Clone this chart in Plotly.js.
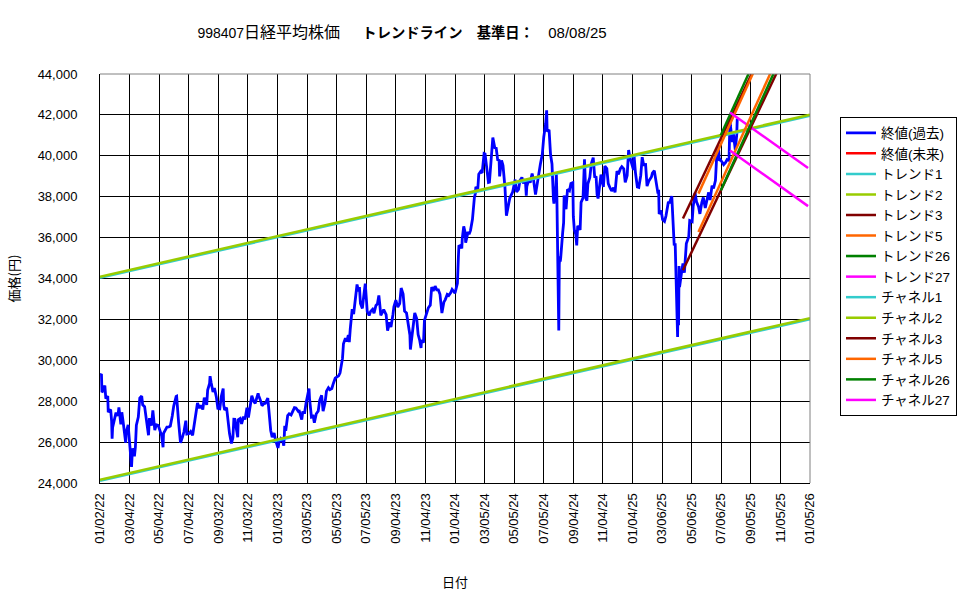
<!DOCTYPE html>
<html><head><meta charset="utf-8">
<script src="https://cdn.plot.ly/plotly-3.0.1.min.js"></script>
<style>body{margin:0;background:#fff}#chart{width:975px;height:599px}</style>
</head><body><div id="chart"></div>
<script>
// ---- data ----
const closeDates = [
'2022-01-04','2022-01-05','2022-01-06','2022-01-07','2022-01-12','2022-01-14','2022-01-18','2022-01-19','2022-01-21','2022-01-24','2022-01-26','2022-01-27','2022-01-28',
'2022-02-01','2022-02-04','2022-02-08','2022-02-10','2022-02-14','2022-02-16','2022-02-18','2022-02-22','2022-02-24','2022-02-25',
'2022-03-01','2022-03-04','2022-03-08','2022-03-10','2022-03-14','2022-03-16','2022-03-18','2022-03-22','2022-03-25','2022-03-29','2022-03-31',
'2022-04-04','2022-04-08','2022-04-12','2022-04-14','2022-04-18','2022-04-21','2022-04-25','2022-04-28',
'2022-05-02','2022-05-09','2022-05-12','2022-05-13','2022-05-17','2022-05-20','2022-05-24','2022-05-27','2022-05-31',
'2022-06-03','2022-06-08','2022-06-09','2022-06-13','2022-06-17','2022-06-21','2022-06-24','2022-06-28','2022-06-30',
'2022-07-05','2022-07-08','2022-07-12','2022-07-15','2022-07-20','2022-07-22','2022-07-26','2022-07-29',
'2022-08-02','2022-08-05','2022-08-10','2022-08-12','2022-08-16','2022-08-17','2022-08-19','2022-08-23','2022-08-26','2022-08-30',
'2022-09-02','2022-09-06','2022-09-09','2022-09-13','2022-09-14','2022-09-16','2022-09-20','2022-09-22','2022-09-26','2022-09-28','2022-09-30',
'2022-10-03','2022-10-05','2022-10-07','2022-10-11','2022-10-13','2022-10-14','2022-10-18','2022-10-21','2022-10-25','2022-10-28',
'2022-11-01','2022-11-04','2022-11-08','2022-11-11','2022-11-15','2022-11-18','2022-11-24','2022-11-25','2022-11-30',
'2022-12-02','2022-12-06','2022-12-09','2022-12-14','2022-12-16','2022-12-20','2022-12-23','2022-12-27','2022-12-30',
'2023-01-04','2023-01-06','2023-01-10','2023-01-13','2023-01-16','2023-01-18','2023-01-20','2023-01-24','2023-01-27','2023-01-31',
'2023-02-03','2023-02-07','2023-02-10','2023-02-15','2023-02-17','2023-02-22','2023-02-24','2023-02-28',
'2023-03-03','2023-03-06','2023-03-09','2023-03-10','2023-03-14','2023-03-15','2023-03-17','2023-03-20','2023-03-24','2023-03-28','2023-03-31',
'2023-04-04','2023-04-07','2023-04-11','2023-04-14','2023-04-18','2023-04-21','2023-04-25','2023-04-28',
'2023-05-02','2023-05-09','2023-05-12','2023-05-17','2023-05-19','2023-05-23','2023-05-26','2023-05-29','2023-05-31',
'2023-06-02','2023-06-06','2023-06-09','2023-06-13','2023-06-16','2023-06-19','2023-06-21','2023-06-23','2023-06-27','2023-06-30',
'2023-07-03','2023-07-07','2023-07-11','2023-07-14','2023-07-18','2023-07-21','2023-07-25','2023-07-28','2023-07-31',
'2023-08-02','2023-08-04','2023-08-08','2023-08-10','2023-08-15','2023-08-18','2023-08-22','2023-08-25','2023-08-29','2023-08-31',
'2023-09-04','2023-09-08','2023-09-12','2023-09-15','2023-09-19','2023-09-22','2023-09-26','2023-09-29',
'2023-10-03','2023-10-04','2023-10-06','2023-10-11','2023-10-13','2023-10-17','2023-10-20','2023-10-23','2023-10-26','2023-10-27','2023-10-31',
'2023-11-02','2023-11-07','2023-11-10','2023-11-14','2023-11-17','2023-11-20','2023-11-24','2023-11-28','2023-11-30',
'2023-12-04','2023-12-06','2023-12-08','2023-12-12','2023-12-15','2023-12-19','2023-12-22','2023-12-26','2023-12-29',
'2024-01-04','2024-01-05','2024-01-09','2024-01-11','2024-01-12','2024-01-16','2024-01-18','2024-01-19','2024-01-22','2024-01-25','2024-01-26','2024-01-31',
'2024-02-02','2024-02-05','2024-02-08','2024-02-09','2024-02-13','2024-02-15','2024-02-16','2024-02-20','2024-02-22','2024-02-26','2024-02-29',
'2024-03-04','2024-03-06','2024-03-08','2024-03-11','2024-03-13','2024-03-15','2024-03-19','2024-03-22','2024-03-26','2024-03-29',
'2024-04-01','2024-04-04','2024-04-05','2024-04-09','2024-04-12','2024-04-16','2024-04-19','2024-04-23','2024-04-26',
'2024-05-02','2024-05-07','2024-05-10','2024-05-14','2024-05-17','2024-05-21','2024-05-24','2024-05-28','2024-05-30','2024-05-31',
'2024-06-04','2024-06-07','2024-06-11','2024-06-14','2024-06-18','2024-06-21','2024-06-25','2024-06-28',
'2024-07-02','2024-07-05','2024-07-09','2024-07-11','2024-07-12','2024-07-16','2024-07-19','2024-07-22','2024-07-25','2024-07-26','2024-07-30','2024-07-31',
'2024-08-01','2024-08-02','2024-08-05','2024-08-06','2024-08-07','2024-08-08','2024-08-09','2024-08-13','2024-08-15','2024-08-16','2024-08-20','2024-08-23','2024-08-27','2024-08-30',
'2024-09-03','2024-09-04','2024-09-06','2024-09-09','2024-09-11','2024-09-13','2024-09-18','2024-09-20','2024-09-24','2024-09-27','2024-09-30',
'2024-10-02','2024-10-04','2024-10-08','2024-10-11','2024-10-15','2024-10-18','2024-10-21','2024-10-23','2024-10-25','2024-10-28','2024-10-31',
'2024-11-05','2024-11-07','2024-11-08','2024-11-12','2024-11-15','2024-11-19','2024-11-22','2024-11-26','2024-11-29',
'2024-12-03','2024-12-06','2024-12-10','2024-12-13','2024-12-17','2024-12-20','2024-12-24','2024-12-27','2024-12-30',
'2025-01-06','2025-01-07','2025-01-10','2025-01-14','2025-01-17','2025-01-21','2025-01-24','2025-01-27','2025-01-31',
'2025-02-03','2025-02-07','2025-02-12','2025-02-14','2025-02-18','2025-02-21','2025-02-25','2025-02-27','2025-02-28',
'2025-03-04','2025-03-07','2025-03-11','2025-03-14','2025-03-19','2025-03-21','2025-03-26','2025-03-28','2025-03-31',
'2025-04-02','2025-04-04','2025-04-07','2025-04-08','2025-04-09','2025-04-10','2025-04-11','2025-04-15','2025-04-18','2025-04-21','2025-04-25','2025-04-30',
'2025-05-02','2025-05-07','2025-05-09','2025-05-13','2025-05-16','2025-05-20','2025-05-23','2025-05-27','2025-05-30',
'2025-06-03','2025-06-06','2025-06-10','2025-06-13','2025-06-17','2025-06-20','2025-06-24','2025-06-27','2025-06-30',
'2025-07-02','2025-07-04','2025-07-08','2025-07-11','2025-07-15','2025-07-18','2025-07-22','2025-07-23','2025-07-24','2025-07-25','2025-07-29','2025-07-31',
'2025-08-01','2025-08-04','2025-08-06','2025-08-07','2025-08-08'];
const closeValues = [
29301,29332,28487,28478,28765,28124,28257,27467,27522,27588,27011,26170,26717,
27078,27439,27284,27696,26865,27460,27122,26449,25970,26476,
26844,25985,24790,25690,25307,25762,26827,27224,28149,28252,27821,
27736,26985,26335,27172,26800,27553,26590,26847,
26818,26319,25748,26428,26659,26739,26748,26781,27279,
27761,28234,28246,26987,25963,26246,26491,27049,26393,
26423,26517,26336,26788,27680,27915,27655,27801,
27594,28175,27819,28547,28869,29222,28930,28452,28641,28195,
27650,27626,28214,28614,27818,27567,27688,27153,26431,26173,25937,
26215,27120,27116,26401,26237,27090,27156,26890,27250,27105,
27678,27199,27872,28263,27990,27899,28383,28283,27968,
27777,27885,27901,28156,27527,26568,26235,26447,26094,
25716,25973,26175,26119,25822,26791,26553,27299,27382,27327,
27509,27685,27670,27501,27513,27104,27453,27445,
27927,28237,28623,28143,27222,27229,27333,26945,27385,27518,28041,
28287,27518,27923,28493,28658,28564,28620,28856,
29123,29242,29388,30093,30808,31086,30916,31233,30888,
31524,32506,32265,33018,33706,33370,33575,32781,32538,33189,
33753,32388,32190,32391,32493,32304,32682,32759,33172,
32707,32192,32377,32473,32238,31450,31856,31624,32226,32619,
32939,32606,32776,33533,33242,32402,32315,31857,
31237,30526,30994,31936,32315,32040,31259,30999,30601,30991,30858,
31950,32271,32568,32695,33585,33388,33625,33408,33486,
33231,32775,32307,32843,32970,33219,33169,33305,33464,
33288,33377,33763,35049,35577,35619,35466,35963,36546,36236,35751,36286,
36158,36354,36863,36897,37963,38157,38487,38363,39098,39233,39166,
40109,40090,39688,38820,38695,38707,40003,40888,40398,40369,
39803,39773,38992,39773,39523,38471,37068,37552,37934,
38236,38835,38229,38356,38787,38946,38646,38855,38054,38487,
38837,38683,39134,38815,38102,38596,39173,39583,
40074,40912,41580,42224,41190,41275,40063,39599,37869,37667,38525,39101,
38126,35909,31458,34675,35089,34831,35025,36232,36726,38062,37388,38364,38288,38647,
38686,37047,36391,36159,35619,36581,36380,37723,37940,39829,37919,
37808,38635,38937,39605,39910,38981,38954,38104,37913,38605,39081,
38474,39381,39500,39376,38642,38414,38283,38442,38208,
39248,39091,39367,39470,39364,38702,39036,40281,39894,
39307,40083,39190,38474,38451,39027,39931,39566,39572,
38520,38787,38963,39149,39270,38776,38237,38256,37155,
37331,36887,36793,37053,37751,37677,38027,37120,35617,
35725,33780,31136,33013,31714,34609,33586,34267,34730,34280,35705,36045,
36831,36780,37503,38183,37753,37529,37160,37724,37965,
37446,37742,38211,37834,38536,38403,38790,40150,40487,
39762,39811,39688,39570,39678,39819,39774,41171,41826,41456,40674,41069,
40800,40290,40794,41059,41820];

const futureDates = [];
const futureValues = [];

const trend1Dates = ['2022-01-02','2026-01-05'];  const trend1Values = [34040, 41960];
const trend2Dates = ['2022-01-02','2026-01-05'];  const trend2Values = [34090, 42010];
const trend3Dates = ['2025-04-18','2025-10-31'];  const trend3Values = [36930, 46720];
const trend5Dates = ['2025-05-20','2025-10-31'];  const trend5Values = [38150, 46730];
const trend26Dates = ['2025-07-05','2025-10-31']; const trend26Values = [41000, 47200];
const trend27Dates = ['2025-07-24','2026-01-01']; const trend27Values = [42120, 39400];
const chan1Dates = ['2022-01-02','2026-01-05'];   const chan1Values = [24110, 32010];
const chan2Dates = ['2022-01-02','2026-01-05'];   const chan2Values = [24160, 32060];
const chan3Dates = ['2025-04-18','2025-10-31'];   const chan3Values = [34400, 44190];
const chan5Dates = ['2025-05-20','2025-10-31'];   const chan5Values = [36270, 44850];
const chan26Dates = ['2025-07-05','2025-10-31'];  const chan26Values = [38300, 44500];
const chan27Dates = ['2025-07-24','2026-01-01'];  const chan27Values = [40260, 37540];

const tickDates = ['2022-01-02','2022-03-04','2022-05-04','2022-07-04','2022-09-03','2022-11-03',
 '2023-01-03','2023-03-05','2023-05-05','2023-07-05','2023-09-04','2023-11-04',
 '2024-01-04','2024-03-05','2024-05-05','2024-07-05','2024-09-04','2024-11-04',
 '2025-01-04','2025-03-06','2025-05-06','2025-07-06','2025-09-05','2025-11-05','2026-01-05'];
const tickLabels = ['01/02/22','03/04/22','05/04/22','07/04/22','09/03/22','11/03/22',
 '01/03/23','03/05/23','05/05/23','07/05/23','09/04/23','11/04/23',
 '01/04/24','03/05/24','05/05/24','07/05/24','09/04/24','11/04/24',
 '01/04/25','03/06/25','05/06/25','07/06/25','09/05/25','11/05/25','01/05/26'];
const yTicks = [24000,26000,28000,30000,32000,34000,36000,38000,40000,42000,44000];

// ---- chart ----
function ln(name, x, y, color, w) {
  return {type:'scatter', mode:'lines', name:name, x:x, y:y,
          line:{color:color, width:w||2.5}, hoverinfo:'skip'};
}
const traces = [
  ln('終値(過去)', closeDates, closeValues, '#0000FF', 2.8),
  ln('終値(未来)', futureDates.length?futureDates:[null], futureValues.length?futureValues:[null], '#FF0000'),
  ln('トレンド1', trend1Dates, trend1Values, '#33CCCC'),
  ln('トレンド2', trend2Dates, trend2Values, '#99CC00'),
  ln('トレンド3', trend3Dates, trend3Values, '#800000'),
  ln('トレンド5', trend5Dates, trend5Values, '#FF6600'),
  ln('トレンド26', trend26Dates, trend26Values, '#008000'),
  ln('トレンド27', trend27Dates, trend27Values, '#FF00FF'),
  ln('チャネル1', chan1Dates, chan1Values, '#33CCCC'),
  ln('チャネル2', chan2Dates, chan2Values, '#99CC00'),
  ln('チャネル3', chan3Dates, chan3Values, '#800000'),
  ln('チャネル5', chan5Dates, chan5Values, '#FF6600'),
  ln('チャネル26', chan26Dates, chan26Values, '#008000'),
  ln('チャネル27', chan27Dates, chan27Values, '#FF00FF')
];
const FONT = 'Liberation Sans, Noto Sans CJK JP, sans-serif';
const titleText = '<span style="font-size:14px">998407</span><span style="font-size:16px">日経平均株価</span>　  ' +
  '<b>トレンドライン　基準日：</b>　<span style="font-size:15px">08/08/25</span>';
const layout = {
  width:975, height:599,
  margin:{l:100, r:165, t:73.5, b:116, pad:0},
  paper_bgcolor:'#fff', plot_bgcolor:'#fff',
  font:{family:FONT, size:13, color:'#000'},
  title:{text:titleText,
         x:402/975, xref:'container', xanchor:'center', y:1-33/599, yref:'container', yanchor:'middle',
         font:{family:FONT, size:14.3, color:'#000'}},
  showlegend:true,
  legend:{x:840/975, y:1-116.5/599, xref:'container', yref:'container', xanchor:'left', yanchor:'top',
          bordercolor:'#000', borderwidth:1, bgcolor:'#fff',
          font:{family:FONT, size:13.5, color:'#000'}, itemwidth:30, tracegroupgap:0},
  xaxis:{type:'date', range:['2022-01-02','2026-01-05'], tickvals:tickDates, ticktext:tickLabels,
         tickangle:-90, showgrid:true, gridcolor:'#000', gridwidth:1,
         showline:true, linecolor:'#000', linewidth:1, mirror:false, ticks:'', zeroline:false,
         tickfont:{family:FONT, size:13}, ticklabelstandoff:4,
         title:{text:'日付', font:{family:'Noto Sans CJK JP', size:13}, standoff:35}},
  yaxis:{range:[24000,44000], tickvals:yTicks, tickformat:',', showgrid:true, gridcolor:'#000', gridwidth:1,
         showline:true, linecolor:'#000', linewidth:1, mirror:false, ticks:'', zeroline:false,
         tickfont:{family:FONT, size:13}, ticklabelstandoff:19,
         title:{text:'価格(円)', font:{family:'Noto Sans CJK JP', size:13}, standoff:15}},
  shapes:[
    {type:'line', xref:'paper', yref:'paper', x0:0, x1:1, y0:1, y1:1, line:{color:'#808080', width:1}},
    {type:'line', xref:'paper', yref:'paper', x0:1, x1:1, y0:0, y1:1, line:{color:'#808080', width:1}}
  ]
};
Plotly.newPlot('chart', traces, layout, {staticPlot:true});
</script></body></html>
